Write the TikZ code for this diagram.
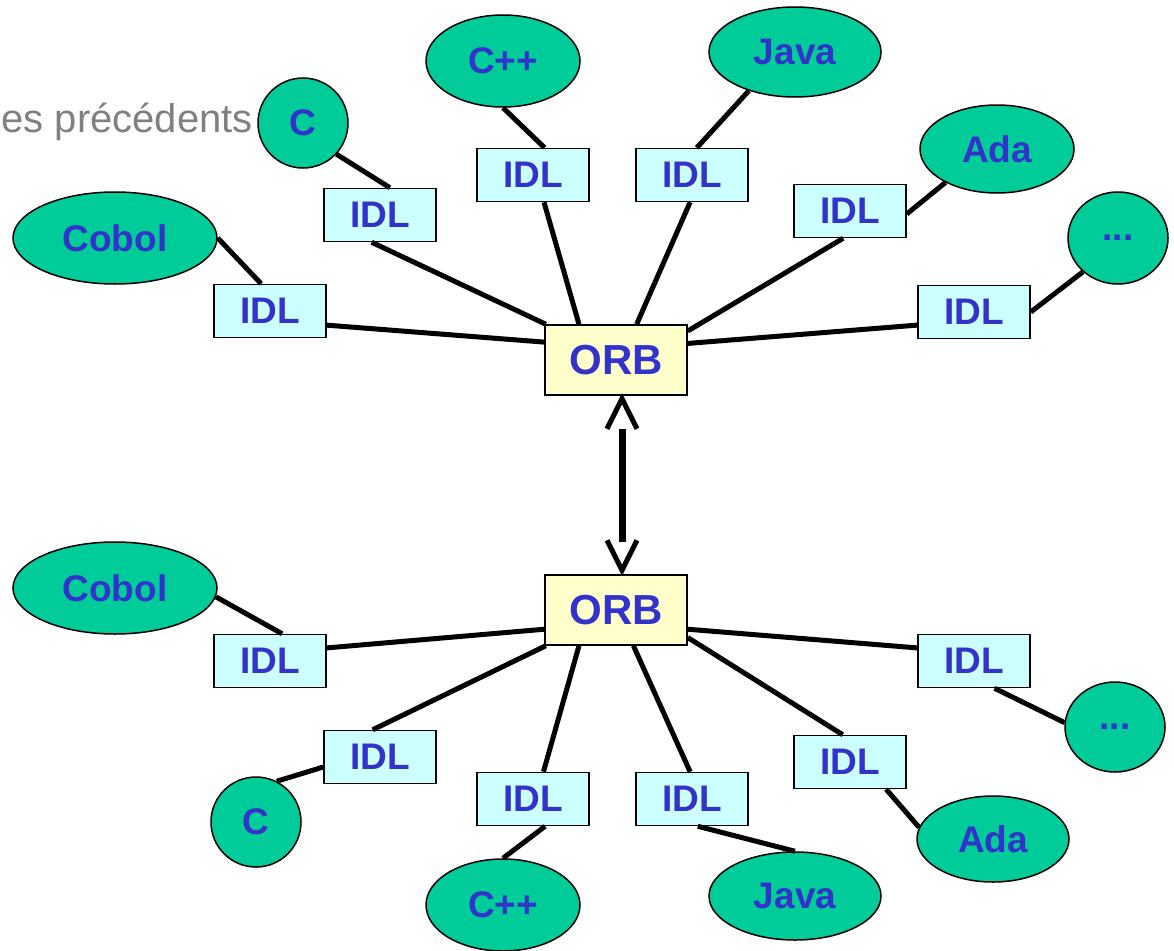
\documentclass[tikz,border=0pt]{standalone}
\usepackage{fontspec}
\setmainfont{Liberation Sans}
\usetikzlibrary{shapes.geometric}
\definecolor{langgreen}{RGB}{0,204,153}
\definecolor{idlcyan}{RGB}{204,255,255}
\definecolor{orbyellow}{RGB}{255,255,204}
\definecolor{labelblue}{RGB}{51,51,204}
\definecolor{introgray}{RGB}{128,128,128}
\newcommand{\langfont}{\fontsize{37}{40}\selectfont\bfseries}
\newcommand{\orbfont}{\fontsize{42}{46}\selectfont\bfseries}

\begin{document}
\begin{tikzpicture}[x=1pt, y=-1pt,
  lang/.style={draw,ellipse,line width=1.5pt,fill=langgreen,inner sep=0pt,font=\langfont,text=labelblue},
  idl/.style={draw,rectangle,line width=1.5pt,fill=idlcyan,inner sep=0pt,minimum width=112pt,minimum height=53pt,font=\langfont,text=labelblue},
  orb/.style={draw,rectangle,line width=1.5pt,fill=orbyellow,inner sep=0pt,minimum width=142pt,minimum height=70pt,font=\orbfont,text=labelblue},
  link/.style={draw,line width=5pt},
  shaft/.style={draw,line width=7pt,shorten <=30pt,shorten >=28pt},
  barb/.style={draw,line width=5pt,miter limit=20}]
  \useasboundingbox (0,0) rectangle (1174,950);

  \node [anchor=base east,inner sep=0pt,text=introgray,font=\fontsize{40}{46}\selectfont] (intro) at (253,132) {es précédents};

  % upper bus
  \node [orb] (orbA) at (616,360) {ORB};

  \node [lang,minimum width=90pt,minimum height=90pt]   (cA)     at (303,123)  {C};
  \node [lang,minimum width=154pt,minimum height=92pt]  (cppA)   at (503,61)   {C++};
  \node [lang,minimum width=172pt,minimum height=90pt]  (javaA)  at (795,52)   {Java};
  \node [lang,minimum width=154pt,minimum height=88pt]  (adaA)   at (997,149)  {Ada};
  \node [lang,minimum width=100pt,minimum height=92pt]  (etcA)   at (1118,238) {...};
  \node [lang,minimum width=204pt,minimum height=92pt]  (cobolA) at (115,238)  {Cobol};

  \node [idl] (idlcA)     at (380,215) {IDL};
  \node [idl] (idlcppA)   at (533,175) {IDL};
  \node [idl] (idljavaA)  at (692,175) {IDL};
  \node [idl] (idladaA)   at (850,211) {IDL};
  \node [idl] (idletcA)   at (974,312) {IDL};
  \node [idl] (idlcobolA) at (270,311) {IDL};

  \path [link] (cA.-43)       -- (idlcA.70);
  \path [link] (cppA.-90)     -- (idlcppA.67);
  \path [link] (javaA.-140)   -- (idljavaA.80);
  \path [link] (adaA.-147)    -- (idladaA.-3);
  \path [link] (etcA.-136)    -- (idletcA.east);
  \path [link] (cobolA.east)  -- (idlcobolA.108);

  \path [link] (idlcobolA.-14) -- (orbA.166);
  \path [link] (idlcA.-107)    -- (orbA.153);
  \path [link] (idlcppA.-68)   -- (orbA.136);
  \path [link] (idljavaA.-94)  -- (orbA.60);
  \path [link] (idladaA.-104)  -- (orbA.22);
  \path [link] (idletcA.-167)  -- (orbA.13);

  % lower bus
  \node [orb] (orbB) at (616,610) {ORB};

  \node [lang,minimum width=204pt,minimum height=92pt]  (cobolB) at (115,588)  {Cobol};
  \node [lang,minimum width=90pt,minimum height=90pt]   (cB)     at (256,822)  {C};
  \node [lang,minimum width=154pt,minimum height=92pt]  (cppB)   at (503,905)  {C++};
  \node [lang,minimum width=172pt,minimum height=88pt]  (javaB)  at (795,896)  {Java};
  \node [lang,minimum width=152pt,minimum height=86pt]  (adaB)   at (993,839)  {Ada};
  \node [lang,minimum width=100pt,minimum height=90pt]  (etcB)   at (1115,727) {...};

  \node [idl] (idlcobolB) at (270,661) {IDL};
  \node [idl] (idlcB)     at (380,757) {IDL};
  \node [idl] (idlcppB)   at (533,799) {IDL};
  \node [idl] (idljavaB)  at (692,799) {IDL};
  \node [idl] (idladaB)   at (850,762) {IDL};
  \node [idl] (idletcB)   at (974,661) {IDL};

  \path [link] (cobolB.-5)    -- (idlcobolB.66);
  \path [link] (cB.63)        -- (idlcB.190);
  \path [link] (cppB.90)      -- (idlcppB.-66);
  \path [link] (javaB.90)     -- (idljavaB.-78);
  \path [link] (adaB.171)     -- (idladaB.-37);
  \path [link] (etcB.175)     -- (idletcB.-53);

  \path [link] (idlcobolB.13) -- (orbB.-165);
  \path [link] (idlcB.105)    -- (orbB.-153);
  \path [link] (idlcppB.69)   -- (orbB.-136);
  \path [link] (idljavaB.94)  -- (orbB.-64);
  \path [link] (idladaB.105)  -- (orbB.-21);
  \path [link] (idletcB.167)  -- (orbB.-15);

  % double arrow between the two ORBs
  \coordinate (tipA) at ([xshift=6pt,yshift=-3pt]orbA.south);
  \coordinate (tipB) at ([xshift=6pt,yshift=4pt]orbB.north);
  \path [shaft] (tipA) -- (tipB);
  \path [barb] ([shift={(-15,30)}]tipA) -- (tipA) -- ([shift={(15,30)}]tipA);
  \path [barb] ([shift={(-15,-30)}]tipB) -- (tipB) -- ([shift={(15,-30)}]tipB);
\end{tikzpicture}
\end{document}
